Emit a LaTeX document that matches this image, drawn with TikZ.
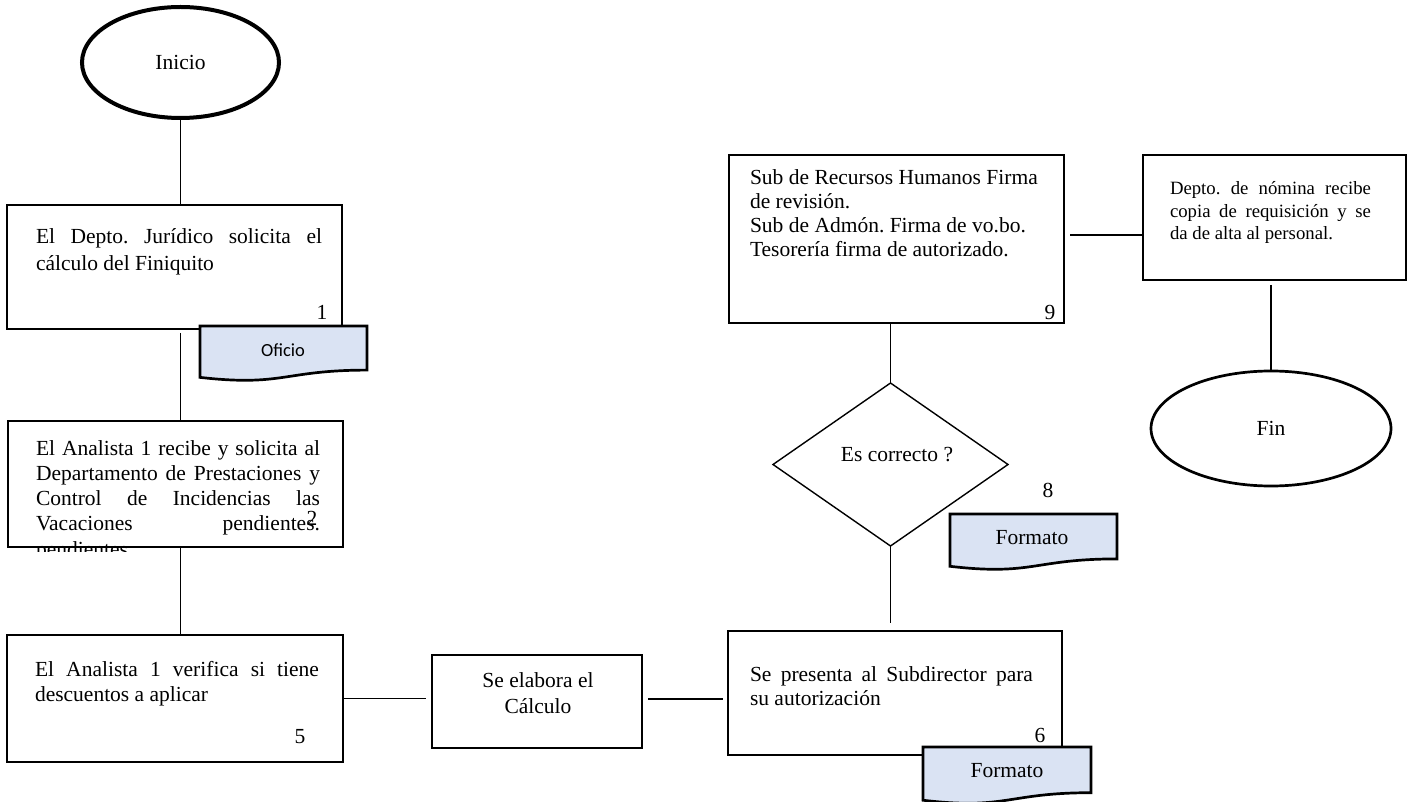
\documentclass[tikz,border=0pt]{standalone}
\usepackage{fontspec}
\setmainfont{Liberation Serif}
\newfontfamily\calibrifont{Carlito}
\usetikzlibrary{shapes.geometric}

\definecolor{docblue}{RGB}{218,227,243}

% document symbol: left x, top y, right x, height
\newcommand{\docsymbol}[4]{%
  \filldraw[docline] (#1,#2) -- (#3,#2) -- (#3,{#2+0.802*#4})
    .. controls ({(#1+#3)/2},{#2+0.802*#4}) and ({(#1+#3)/2},{#2+1.107*#4}) ..
    (#1,{#2+0.934*#4}) -- cycle;}

\tikzset{
  every node/.style={inner sep=0pt, outer sep=0pt},
  stepbox/.style={draw=black, line width=2.7pt, anchor=north west},
  conn/.style={line width=1.3pt},
  % multi-line text blocks are placed by the baseline of their last line
  body/.style={anchor=base west, align=left, font=\frenchspacing\fontsize{21.5}{#1}\selectfont},
  body/.default=24.5,
  small/.style={anchor=base west, align=left, font=\frenchspacing\fontsize{18.75}{22.5}\selectfont},
  num/.style={anchor=base, font=\fontsize{21.5}{24.5}\selectfont},
  label/.style={anchor=center, font=\fontsize{21.5}{26}\selectfont, align=center},
  docline/.style={draw=black, line width=2.7pt, fill=docblue},
  term/.style={draw=black, ellipse},
}

\begin{document}
\begin{tikzpicture}[x=1pt, y=-1pt]
\fill[white] (0,0) rectangle (1417,802);
\useasboundingbox (0,0) rectangle (1417,802);

% ---- left column ----
\node[term, line width=4pt, minimum width=197pt, minimum height=111pt,
      font=\fontsize{21.5}{24.5}\selectfont] (inicio) at (180.5,62.5) {Inicio};

\node[stepbox, minimum width=335pt, minimum height=124pt] (b1) at (7,205) {};
\node[body=27] (t1) at (36,271)
  {\makebox[286pt][s]{El Depto. Jurídico solicita el}\\cálculo del Finiquito};
\node[num] (n1) at (322,320) {1};

\docsymbol{200}{326}{367}{55}
\node[font=\calibrifont\fontsize{18.5}{22}\selectfont] (oficio) at (283,350) {Oficio};

\begin{scope}
  \clip (30,541) rectangle (200,551);
  \node[body] (t2x) at (36,556) {pendientes};
\end{scope}
\node[stepbox, minimum width=335pt, minimum height=126pt] (b2) at (8,421) {};
\node[body=25] (t2) at (36,530)
  {\makebox[284pt][s]{El Analista 1 recibe y solicita al}\\
   \makebox[284pt][s]{Departamento de Prestaciones y}\\
   \makebox[284pt][s]{Control de Incidencias las}\\
   \makebox[284pt][s]{Vacaciones pendientes.}};
\node[num] (n2) at (312,525) {2};

\node[stepbox, minimum width=336pt, minimum height=127pt] (b5) at (7,635) {};
\node[body=25] (t5) at (35,701)
  {\makebox[284pt][s]{El Analista 1 verifica si tiene}\\descuentos a aplicar};
\node[num] (n5) at (300,743) {5};

% ---- bottom middle ----
\node[stepbox, minimum width=210pt, minimum height=93pt] (calc) at (432,655) {};
\node[label] (tc) at (538,693) {Se elabora el\\Cálculo};

% ---- right column ----
\node[stepbox, minimum width=334pt, minimum height=124pt] (b6) at (728,631) {};
\node[body=24] (t6) at (750,705)
  {\makebox[283pt][s]{Se presenta al Subdirector para}\\su autorización};
\node[num] (n6) at (1040,742) {6};

\docsymbol{923}{747}{1091}{57}
\node[font=\fontsize{21.5}{24.5}\selectfont] (fmt6) at (1007,771) {Formato};

\node[diamond, draw=black, line width=1.4pt, minimum width=235pt, minimum height=163pt] (dia) at (890.5,464.5) {};
\node[font=\fontsize{21.5}{24.5}\selectfont] (diaq) at (897,455) {Es correcto ?};
\node[num] (n8) at (1048,497) {8};

\docsymbol{950}{514}{1117}{56}
\node[font=\fontsize{21.5}{24.5}\selectfont] (fmt8) at (1032,538) {Formato};

\node[stepbox, minimum width=335pt, minimum height=168pt] (b9) at (729,155) {};
\node[body=24] (t9) at (750,257)
  {Sub de Recursos Humanos Firma\\de revisión.\\Sub de Admón. Firma de vo.bo.\\Tesorería firma de autorizado.};
\node[num] (n9) at (1050,320) {9};

\node[stepbox, minimum width=263pt, minimum height=125pt] (nom) at (1143,155) {};
\node[small] (tn) at (1170,240)
  {\makebox[201pt][s]{Depto. de nómina recibe}\\
   \makebox[201pt][s]{copia de requisición y se}\\
   da de alta al personal.};

\node[term, line width=2.7pt, minimum width=240pt, minimum height=115pt,
      font=\fontsize{21.5}{24.5}\selectfont] (fin) at (1271,428.5) {Fin};

% ---- connectors ----
\draw[conn] (inicio.south) -- (inicio.south |- b1.north);
\draw[conn, shorten <=4pt] (b1.south -| inicio.south) -- (b2.north -| inicio.south);
\draw[conn] (b2.south -| inicio.south) -- (b5.north -| inicio.south);
\draw[conn, shorten >=6pt] (b5.east) -- (b5.east -| calc.west);
\draw[conn, shorten <=6pt, shorten >=5pt] ([yshift=2.5pt]calc.east) -- ([yshift=2.5pt]calc.east -| b6.west);
\draw[conn, shorten >=8pt] (dia.south) -- (dia.south |- b6.north);
\draw[conn] (dia.north |- b9.south) -- (dia.north);
\draw[conn, shorten <=6pt] ([yshift=4pt]b9.east) -- ([yshift=4pt]b9.east -| nom.west);
\draw[conn, shorten <=5pt] (nom.south -| fin.north) -- (fin.north);
\end{tikzpicture}
\end{document}
